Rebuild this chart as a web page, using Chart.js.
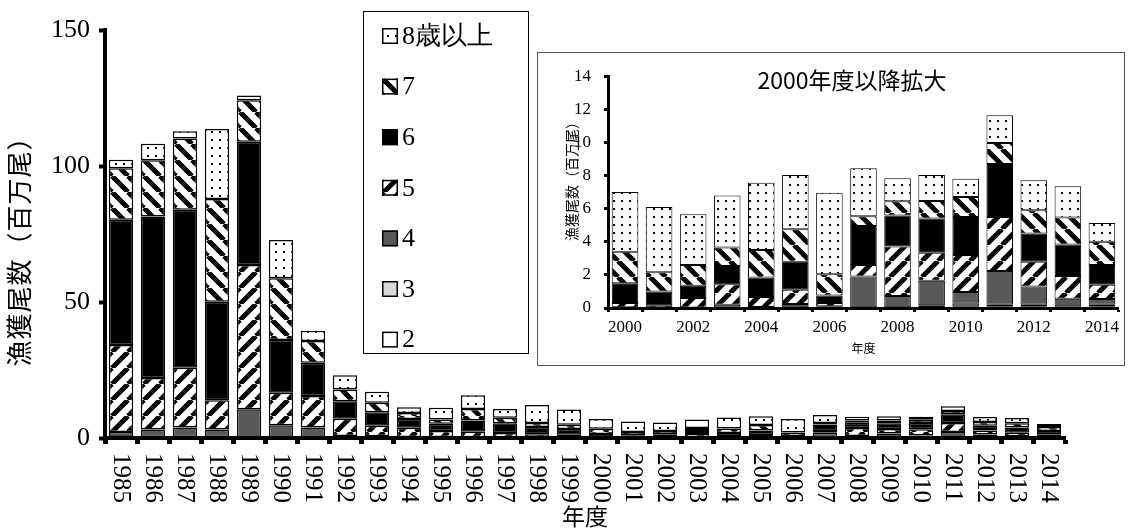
<!DOCTYPE html>
<html lang="ja">
<head>
<meta charset="utf-8">
<title>漁獲尾数</title>
<script src="https://cdn.jsdelivr.net/npm/chart.js@4.4.1/dist/chart.umd.min.js"></script>
<style>
  body { margin: 0; background: #fff; }
  #wrap { position: relative; width: 1128px; height: 530px; background: #fff; }
  #insetBox { position: absolute; left: 537px; top: 52px; width: 586px; height: 312px; border: 1px solid #555; background: #fff; }
  canvas { display: block; }
</style>
</head>
<body>
<div id="wrap">
  <canvas id="mainChart" width="1128" height="530"></canvas>
  <div id="insetBox">
    <canvas id="insetChart" width="586" height="312"></canvas>
  </div>
</div>
<script>
// 年度
const years = [1985, 1986, 1987, 1988, 1989, 1990, 1991, 1992, 1993, 1994,
               1995, 1996, 1997, 1998, 1999, 2000, 2001, 2002, 2003, 2004,
               2005, 2006, 2007, 2008, 2009, 2010, 2011, 2012, 2013, 2014];

// 年齢別漁獲尾数（百万尾）
const age2 = [0.2, 0.1, 0.1, 0.1, 0.1, 0.1, 0.1, 0.1, 0.1, 0.05,
              0.05, 0.05, 0.05, 0.05, 0.05, 0.01, 0.0, 0.0, 0.01, 0.01,
              0.01, 0.02, 0.02, 0.02, 0.06, 0.1, 0.1, 0.08, 0.04, 0.08];
const age3 = [0.3, 0.2, 0.2, 0.2, 0.1, 0.1, 0.1, 0.1, 0.1, 0.05,
              0.05, 0.05, 0.05, 0.05, 0.05, 0.01, 0.01, 0.01, 0.02, 0.01,
              0.03, 0.03, 0.03, 0.02, 0.1, 0.16, 0.1, 0.12, 0.06, 0.12];
const age4 = [1.7, 2.8, 3.6, 2.8, 10.4, 4.5, 3.7, 0.5, 0.4, 0.3,
              0.3, 0.2, 0.2, 0.1, 0.1, 0.03, 0.02, 0.02, 0.17, 0.04,
              0.2, 0.05, 1.85, 0.68, 1.48, 0.7, 2.04, 1.1, 0.46, 0.34];
const age5 = [32.0, 19.0, 21.9, 10.8, 53.0, 11.9, 11.5, 6.4, 3.9, 3.4,
              2.2, 2.0, 1.5, 1.2, 1.0, 0.25, 0.13, 0.57, 1.24, 0.6,
              0.86, 0.2, 0.7, 3.0, 1.7, 2.24, 3.26, 1.5, 1.38, 0.86];
const age6 = [46.0, 59.3, 58.1, 36.2, 45.3, 19.4, 12.3, 6.4, 5.0, 3.2,
              2.6, 4.1, 3.6, 2.6, 2.1, 1.2, 0.84, 0.74, 1.1, 1.18,
              1.7, 0.46, 2.36, 1.86, 2.06, 2.3, 3.2, 1.7, 1.9, 1.2];
const age7 = [19.0, 20.7, 26.2, 37.8, 15.3, 22.7, 8.0, 4.3, 3.5, 2.2,
              1.6, 4.3, 2.0, 1.5, 1.6, 1.9, 1.16, 1.26, 1.12, 1.66,
              1.96, 1.28, 0.58, 0.86, 1.06, 1.2, 1.26, 1.4, 1.62, 1.4];
const age8plus = [3.1, 6.1, 2.7, 25.7, 1.7, 14.1, 3.7, 5.3, 4.0, 2.1,
                  4.3, 5.0, 3.3, 6.6, 5.6, 3.6, 3.94, 3.06, 3.14, 4.06,
                  3.28, 4.92, 2.9, 1.4, 1.58, 1.1, 1.68, 1.82, 1.9, 1.14];

const ageLabels = ["2", "3", "4", "5", "6", "7", "8歳以上"];
const ageSeries = [age2, age3, age4, age5, age6, age7, age8plus];

const SERIF = "'Liberation Serif', 'Times New Roman', serif";
const SANS = "'Noto Sans CJK JP', 'Noto Sans', sans-serif";

Chart.defaults.font.family = SERIF;
Chart.defaults.color = "#000";

// 塗りパターン
const makeTile = (size, draw) => {
    const c = document.createElement("canvas");
    c.width = size;
    c.height = size;
    const g = c.getContext("2d");
    g.fillStyle = "#fff";
    g.fillRect(0, 0, size, size);
    draw(g, size);
    return g.createPattern(c, "repeat");
};

const dotPattern = makeTile(8, (g) => {
    g.fillStyle = "#000";
    g.fillRect(3, 3, 2, 2);
});

const stripePattern = (dir) => makeTile(16, (g, s) => {
    g.strokeStyle = "#000";
    g.lineWidth = 5;
    [-s, 0, s].forEach((off) => {
        g.beginPath();
        if (dir === "back") {
            g.moveTo(off, 0);
            g.lineTo(off + s, s);
        } else {
            g.moveTo(off, s);
            g.lineTo(off + s, 0);
        }
        g.stroke();
    });
});

const fills = ["#ffffff", "#d9d9d9", "#595959", stripePattern("fwd"), "#000000", stripePattern("back"), dotPattern];

const buildDatasets = (from, borderWidth) => ageSeries.map((arr, i) => ({
    label: ageLabels[i],
    data: arr.slice(from),
    backgroundColor: fills[i],
    borderColor: "#000",
    borderWidth: borderWidth,
    borderSkipped: false,
}));

// 縦書きのテキスト
const drawRotated = (ctx, text, x, y, angle, font, align, spacing) => {
    ctx.save();
    ctx.font = font;
    if (spacing) ctx.letterSpacing = spacing;
    ctx.fillStyle = "#000";
    ctx.textAlign = align;
    ctx.textBaseline = "middle";
    ctx.translate(x, y);
    ctx.rotate(angle);
    ctx.fillText(text, 0, 0);
    ctx.restore();
};

// 年度ラベル（時計回り）と y 軸タイトル
const mainLabels = {
    id: "mainLabels",
    afterDraw(chart) {
        const xs = chart.scales.x;
        xs.ticks.forEach((t, i) => {
            drawRotated(chart.ctx, String(years[i]), xs.getPixelForTick(i), xs.top + 15,
                Math.PI / 2, `25px ${SERIF}`, "left");
        });
        drawRotated(chart.ctx, "漁獲尾数（百万尾）", 19, 245, -Math.PI / 2, `26px ${SANS}`, "center", "1px");
    }
};

// 凡例ボックス
const legendBox = {
    id: "legendBox",
    afterDraw(chart) {
        const ctx = chart.ctx;
        ctx.save();
        ctx.fillStyle = "#fff";
        ctx.fillRect(363, 11, 165, 342);
        ctx.strokeStyle = "#000";
        ctx.lineWidth = 1;
        ctx.strokeRect(363.5, 11.5, 165, 342);
        const ds = chart.data.datasets.slice().reverse();
        ds.forEach((d, i) => {
            const cy = 36 + i * 50.6;
            ctx.fillStyle = d.backgroundColor;
            ctx.fillRect(382, cy - 8, 16, 16);
            ctx.strokeStyle = "#000";
            ctx.lineWidth = 1.5;
            ctx.strokeRect(382.75, cy - 7.25, 14.5, 14.5);
            ctx.fillStyle = "#000";
            ctx.font = `26px ${SERIF}`;
            ctx.textAlign = "left";
            ctx.textBaseline = "middle";
            ctx.fillText(d.label, 402, cy + 1);
        });
        ctx.restore();
    }
};

new Chart(document.getElementById("mainChart").getContext("2d"), {
    type: "bar",
    data: {
        labels: years.map(String),
        datasets: buildDatasets(0, 1.5),
    },
    options: {
        responsive: false,
        animation: false,
        devicePixelRatio: 1,
        layout: { padding: { left: 5, top: 30, right: 63, bottom: 0 } },
        datasets: { bar: { barPercentage: 0.76, categoryPercentage: 1 } },
        plugins: { legend: { display: false }, tooltip: { enabled: false } },
        scales: {
            x: {
                stacked: true,
                offset: true,
                grid: { offset: true, drawOnChartArea: false, drawTicks: true, tickLength: 6, tickWidth: 5, color: "#000" },
                border: { display: true, width: 4, color: "#000" },
                ticks: { display: false },
                title: { display: true, text: "年度", font: { family: SANS, size: 23 }, color: "#000", padding: 0 },
                afterFit: (s) => { s.height = 92; },
            },
            y: {
                stacked: true,
                min: 0,
                max: 150,
                ticks: { stepSize: 50, font: { family: SERIF, size: 26 }, color: "#000", padding: 9 },
                grid: { drawOnChartArea: false, tickLength: 6, tickWidth: 4, color: "#000" },
                border: { display: true, width: 4, color: "#000" },
                title: { display: false },
                afterFit: (s) => { s.width = 100; },
            },
        },
    },
    plugins: [mainLabels, legendBox],
});

// 2000年度以降拡大
const insetText = {
    id: "insetText",
    afterDraw(chart) {
        const ctx = chart.ctx;
        ctx.save();
        ctx.font = `23px ${SANS}`;
        ctx.fillStyle = "#000";
        ctx.textAlign = "center";
        ctx.textBaseline = "middle";
        ctx.fillText("2000年度以降拡大", 314, 27);
        ctx.restore();
        drawRotated(ctx, "漁獲尾数（百万尾）", 34, 125, -Math.PI / 2, `14px ${SANS}`, "center");
    }
};

new Chart(document.getElementById("insetChart").getContext("2d"), {
    type: "bar",
    data: {
        labels: years.slice(15).map(String),
        datasets: buildDatasets(15, 1),
    },
    options: {
        responsive: false,
        animation: false,
        devicePixelRatio: 1,
        layout: { padding: { left: 0, top: 22, right: 2, bottom: 9 } },
        datasets: { bar: { barPercentage: 0.78, categoryPercentage: 1 } },
        plugins: { legend: { display: false }, tooltip: { enabled: false } },
        scales: {
            x: {
                stacked: true,
                offset: true,
                grid: { offset: true, drawOnChartArea: false, tickLength: 4, tickWidth: 3, color: "#000" },
                border: { display: true, width: 3, color: "#000" },
                ticks: {
                    autoSkip: false,
                    maxRotation: 0,
                    font: { family: SERIF, size: 17 },
                    color: "#000",
                    padding: 5,
                    callback: function (v, i) { return i % 2 === 0 ? this.getLabelForValue(v) : ""; },
                },
                title: { display: true, text: "年度", font: { family: SANS, size: 12 }, color: "#000", padding: 0 },
                afterFit: (s) => { s.height = 48; },
            },
            y: {
                stacked: true,
                min: 0,
                max: 14,
                ticks: { stepSize: 2, font: { family: SERIF, size: 17 }, color: "#000", padding: 13 },
                grid: { drawOnChartArea: false, tickLength: 4, tickWidth: 3, color: "#000" },
                border: { display: true, width: 3, color: "#000" },
                title: { display: false },
                afterFit: (s) => { s.width = 70; },
            },
        },
    },
    plugins: [insetText],
});
</script>
</body>
</html>
